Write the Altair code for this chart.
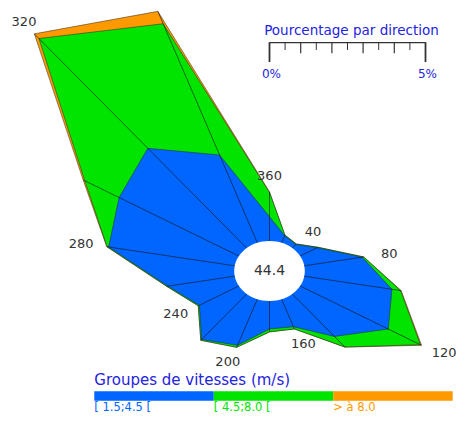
import altair as alt
import pandas as pd

# ---------------- data ----------------
directions = [20, 40, 60, 80, 100, 120, 140, 160, 180, 200, 220, 240, 260, 280, 300, 320, 340, 360]
labelled_dirs = [40, 80, 120, 160, 200, 240, 280, 320, 360]
# percentage of observations per direction and speed group
speed_1 = [0.29, 0.18, 0.63, 1.88, 2.85, 3.26, 2.10, 1.11, 1.06, 1.86, 2.25, 1.46, 2.17, 4.10, 4.43, 4.93, 3.54, 0.92]
speed_2 = [0.02, 0.02, 0.03, 0.05, 0.28, 1.19, 0.52, 0.09, 0.11, 0.08, 0.04, 0.04, 0.04, 0.05, 1.27, 5.43, 5.29, 0.92]
speed_3 = [0.00, 0.00, 0.00, 0.00, 0.02, 0.04, 0.01, 0.00, 0.00, 0.00, 0.00, 0.00, 0.00, 0.01, 0.06, 0.23, 0.50, 0.02]
calm_pct = 44.4
groups = ["[ 1.5;4.5 [", "[ 4.5;8.0 [", "> à 8.0"]
colors = ["#0066ff", "#00e400", "#ff9900"]
scale_ticks = [0, 0.5, 1, 1.5, 2, 2.5, 3, 3.5, 4, 4.5, 5]
scale_labels = ["0%", "5%"]
scale_title = "Pourcentage par direction"
legend_title = "Groupes de vitesses (m/s)"

# ---------------- layout constants ----------------
W, H = 452, 405
PX_X, PX_Y = 31.2, 26.4          # pixels per percent (x, y)
CX, CY = 261.5, 263.0            # rose centre inside plot area
CALM_R = 30.0 / PX_Y             # calm circle radius in % units
XMIN = -CX / PX_X
XMAX = XMIN + W / PX_X
YMAX = CY / PX_Y
YMIN = YMAX - H / PX_Y
FONT = "DejaVu Sans"
TXT_BLUE = "#2323e0"
LEG_DY = -11                     # legend raised so its labels stay inside the page

rows = []
for i, d in enumerate(directions):
    cums = [speed_1[i], speed_1[i] + speed_2[i], speed_1[i] + speed_2[i] + speed_3[i]]
    for g, c in zip(groups, cums):
        rows.append({"dir": d, "idx": i, "grp": g, "cum": c})
rose_df = pd.DataFrame(rows)

xs = alt.Scale(domain=[XMIN, XMAX], nice=False, zero=False)
ys = alt.Scale(domain=[YMIN, YMAX], nice=False, zero=False)

base = alt.Chart(rose_df).transform_calculate(
    r=f"{CALM_R} + datum.cum",
    x="datum.r * sin(datum.dir * PI / 180)",
    y="datum.r * cos(datum.dir * PI / 180)",
    x0="0",
    y0="0",
)

polys = []
for g, col in reversed(list(zip(groups, colors))):
    polys.append(
        base.transform_filter(alt.datum.grp == g)
        .mark_line(interpolate="linear-closed", fill=col, stroke="#222", strokeWidth=0.5)
        .encode(x=alt.X("x:Q", scale=xs, axis=None), y=alt.Y("y:Q", scale=ys, axis=None),
                order=alt.Order("idx:Q"))
    )

rays = base.transform_filter(alt.datum.grp == groups[2]).mark_rule(
    color="#111", strokeWidth=0.6
).encode(x="x0:Q", x2="x:Q", y="y0:Q", y2="y:Q")

centre_df = pd.DataFrame({"x": [0.0], "y": [0.0], "t": [f"{calm_pct:.1f}"]})
ELLIPSE = "M -1.177 0 A 1.177 1 0 1 1 1.177 0 A 1.177 1 0 1 1 -1.177 0 Z"
calm_circle = alt.Chart(centre_df).mark_point(
    shape=ELLIPSE, size=3600, filled=True, fill="white", opacity=1, strokeWidth=0
).encode(x="x:Q", y="y:Q")
calm_text = alt.Chart(centre_df).mark_text(
    font=FONT, fontSize=14, color="#333", baseline="middle", align="center"
).encode(x="x:Q", y="y:Q", text="t:N")

dir_labels = base.transform_filter(alt.datum.grp == groups[2]).transform_filter(
    alt.FieldOneOfPredicate(field="dir", oneOf=labelled_dirs)
).transform_calculate(
    lx=(f"min(max(datum.x + {26 / PX_X} * sin(datum.dir * PI / 180), {XMIN + 16 / PX_X}),"
        f" {XMAX - 14 / PX_X})"),
    ly=f"datum.y + {16 / PX_Y} * cos(datum.dir * PI / 180)",
    lab="format(datum.dir, 'd')",
).mark_text(font=FONT, fontSize=13, color="#333", baseline="middle", align="center").encode(
    x="lx:Q", y="ly:Q", text="lab:N"
)

# ---------------- percentage scale bar ----------------
tick_df = pd.DataFrame({"p": scale_ticks})
bar_df = pd.DataFrame({"a": [scale_ticks[0]], "b": [scale_ticks[-1]]})
bar_line = alt.Chart(bar_df).mark_rule(color="#333", strokeWidth=1.2).encode(
    x="a:Q", x2="b:Q", y=alt.value(34.7)
)
tick_end = alt.Chart(tick_df).transform_filter(
    (alt.datum.p == scale_ticks[0]) | (alt.datum.p == scale_ticks[-1])
).mark_rule(color="#333", strokeWidth=1.8).encode(x="p:Q", y=alt.value(34.2), y2=alt.value(54))
tick_mid = alt.Chart(tick_df).transform_filter(
    "datum.p % 1 == 0 && datum.p > 0 && datum.p < 5"
).mark_rule(color="#333", strokeWidth=1.2).encode(x="p:Q", y=alt.value(34.7), y2=alt.value(45.3))
tick_small = alt.Chart(tick_df).transform_filter("datum.p % 1 != 0").mark_rule(
    color="#333", strokeWidth=1.0
).encode(x="p:Q", y=alt.value(34.7), y2=alt.value(42))
lab_df = pd.DataFrame({"p": [scale_ticks[0], scale_ticks[-1]], "t": scale_labels})
pct_labels = alt.Chart(lab_df).mark_text(
    font=FONT, fontSize=12, color=TXT_BLUE, baseline="middle", align="center", dx=2
).encode(x="p:Q", text="t:N", y=alt.value(66))
ttl_df = pd.DataFrame({"p": [(scale_ticks[0] + scale_ticks[-1]) / 2], "t": [scale_title]})
pct_title = alt.Chart(ttl_df).mark_text(
    font=FONT, fontSize=13.5, color=TXT_BLUE, baseline="middle", align="center", dx=4
).encode(x="p:Q", text="t:N", y=alt.value(22.5))

rose = alt.layer(*polys, rays, calm_circle, calm_text, dir_labels,
                 bar_line, tick_end, tick_mid, tick_small, pct_labels, pct_title)

# ---------------- speed legend ----------------
leg_df = pd.DataFrame({"grp": groups, "col": colors})
band = alt.Scale(domain=groups, range=[86.3, 444.7], paddingInner=0, paddingOuter=0)
cscale = alt.Scale(domain=groups, range=colors)
leg_bars = alt.Chart(leg_df).mark_rect().encode(
    x=alt.X("grp:N", scale=band, axis=None, sort=groups),
    y=alt.value(394.3 + LEG_DY), y2=alt.value(403.7 + LEG_DY),
    color=alt.Color("grp:N", scale=cscale, legend=None),
)
leg_labels = alt.Chart(leg_df).mark_text(
    font=FONT, fontSize=11.5, align="left", baseline="top"
).encode(
    x=alt.X("grp:N", scale=band, axis=None, sort=groups, bandPosition=0),
    y=alt.value(404.5 + LEG_DY), text="grp:N",
    color=alt.Color("grp:N", scale=cscale, legend=None),
)
leg_title_df = pd.DataFrame({"t": [legend_title]})
leg_title = alt.Chart(leg_title_df).mark_text(
    font=FONT, fontSize=15, color=TXT_BLUE, align="left", baseline="middle"
).encode(x=alt.value(86.3), y=alt.value(383 + LEG_DY), text="t:N")

legend = alt.layer(leg_bars, leg_labels, leg_title)

chart = alt.layer(rose, legend).resolve_scale(x="independent", y="independent", color="independent").properties(
    width=W, height=H, padding=0, autosize=alt.AutoSizeParams(type="none")
).configure_view(stroke=None)

chart.save("out.html", embed_options={"renderer": "svg", "actions": False})
